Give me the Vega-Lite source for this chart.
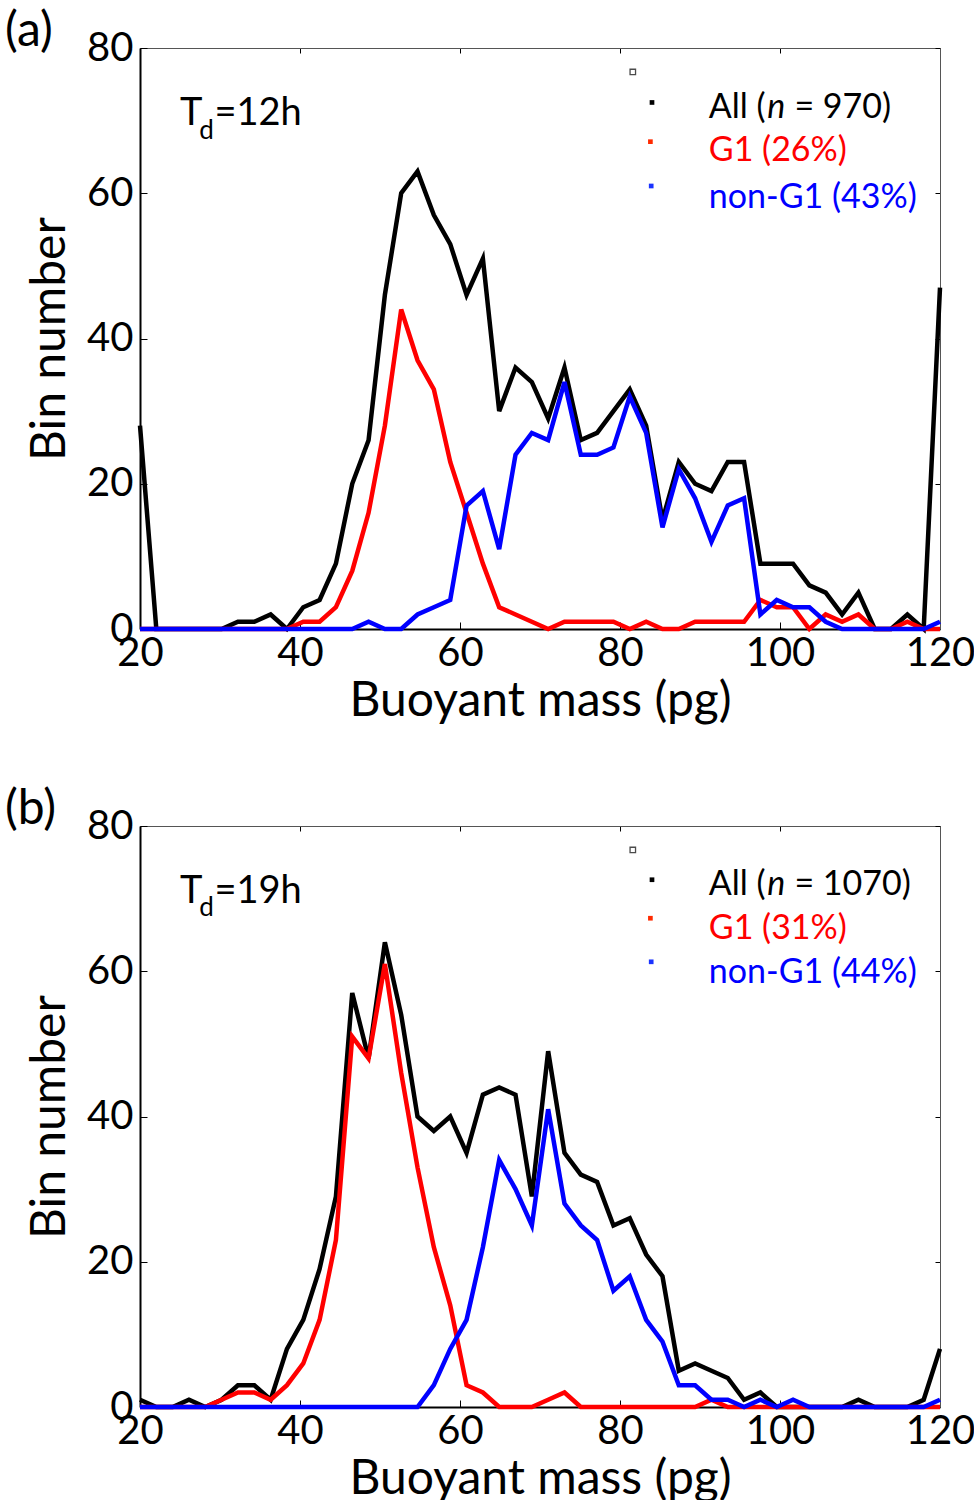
{
  "$schema": "https://vega.github.io/schema/vega-lite/v6.json",
  "background": "white",
  "padding": {"left": 5, "top": 8, "right": 0, "bottom": 0},
  "spacing": 61,
  "config": {
    "view": {"stroke": null},
    "font": "Lato",
    "axis": {
      "labelFont": "Lato", "labelFontSize": 40, "labelColor": "black",
      "titleFont": "Lato", "titleFontSize": 48, "titleFontWeight": "normal", "titleColor": "black",
      "grid": false, "tickColor": "black", "tickSize": -7, "tickWidth": 1,
      "domainColor": "black", "domainWidth": 2
    },
    "title": {"font": "Lato", "fontSize": 48, "fontWeight": "normal", "color": "black"}
  },
  "datasets": {
    "a": [
      {"mass": 20, "All": 28, "G1": 0, "nonG1": 0},
      {"mass": 22.04, "All": 0, "G1": 0, "nonG1": 0},
      {"mass": 24.08, "All": 0, "G1": 0, "nonG1": 0},
      {"mass": 26.12, "All": 0, "G1": 0, "nonG1": 0},
      {"mass": 28.16, "All": 0, "G1": 0, "nonG1": 0},
      {"mass": 30.2, "All": 0, "G1": 0, "nonG1": 0},
      {"mass": 32.24, "All": 1, "G1": 0, "nonG1": 0},
      {"mass": 34.29, "All": 1, "G1": 0, "nonG1": 0},
      {"mass": 36.33, "All": 2, "G1": 0, "nonG1": 0},
      {"mass": 38.37, "All": 0, "G1": 0, "nonG1": 0},
      {"mass": 40.41, "All": 3, "G1": 1, "nonG1": 0},
      {"mass": 42.45, "All": 4, "G1": 1, "nonG1": 0},
      {"mass": 44.49, "All": 9, "G1": 3, "nonG1": 0},
      {"mass": 46.53, "All": 20, "G1": 8, "nonG1": 0},
      {"mass": 48.57, "All": 26, "G1": 16, "nonG1": 1},
      {"mass": 50.61, "All": 46, "G1": 28, "nonG1": 0},
      {"mass": 52.65, "All": 60, "G1": 44, "nonG1": 0},
      {"mass": 54.69, "All": 63, "G1": 37, "nonG1": 2},
      {"mass": 56.73, "All": 57, "G1": 33, "nonG1": 3},
      {"mass": 58.78, "All": 53, "G1": 23, "nonG1": 4},
      {"mass": 60.82, "All": 46, "G1": 16, "nonG1": 17},
      {"mass": 62.86, "All": 51, "G1": 9, "nonG1": 19},
      {"mass": 64.9, "All": 30, "G1": 3, "nonG1": 11},
      {"mass": 66.94, "All": 36, "G1": 2, "nonG1": 24},
      {"mass": 68.98, "All": 34, "G1": 1, "nonG1": 27},
      {"mass": 71.02, "All": 29, "G1": 0, "nonG1": 26},
      {"mass": 73.06, "All": 36, "G1": 1, "nonG1": 34},
      {"mass": 75.1, "All": 26, "G1": 1, "nonG1": 24},
      {"mass": 77.14, "All": 27, "G1": 1, "nonG1": 24},
      {"mass": 79.18, "All": 30, "G1": 1, "nonG1": 25},
      {"mass": 81.22, "All": 33, "G1": 0, "nonG1": 32},
      {"mass": 83.27, "All": 28, "G1": 1, "nonG1": 27},
      {"mass": 85.31, "All": 15, "G1": 0, "nonG1": 14},
      {"mass": 87.35, "All": 23, "G1": 0, "nonG1": 22},
      {"mass": 89.39, "All": 20, "G1": 1, "nonG1": 18},
      {"mass": 91.43, "All": 19, "G1": 1, "nonG1": 12},
      {"mass": 93.47, "All": 23, "G1": 1, "nonG1": 17},
      {"mass": 95.51, "All": 23, "G1": 1, "nonG1": 18},
      {"mass": 97.55, "All": 9, "G1": 4, "nonG1": 2},
      {"mass": 99.59, "All": 9, "G1": 3, "nonG1": 4},
      {"mass": 101.63, "All": 9, "G1": 3, "nonG1": 3},
      {"mass": 103.67, "All": 6, "G1": 0, "nonG1": 3},
      {"mass": 105.71, "All": 5, "G1": 2, "nonG1": 1},
      {"mass": 107.76, "All": 2, "G1": 1, "nonG1": 0},
      {"mass": 109.8, "All": 5, "G1": 2, "nonG1": 0},
      {"mass": 111.84, "All": 0, "G1": 0, "nonG1": 0},
      {"mass": 113.88, "All": 0, "G1": 0, "nonG1": 0},
      {"mass": 115.92, "All": 2, "G1": 1, "nonG1": 0},
      {"mass": 117.96, "All": 0, "G1": 0, "nonG1": 0},
      {"mass": 120, "All": 47, "G1": 0, "nonG1": 1}
    ],
    "b": [
      {"mass": 20, "All": 1, "G1": 0, "nonG1": 0},
      {"mass": 22.04, "All": 0, "G1": 0, "nonG1": 0},
      {"mass": 24.08, "All": 0, "G1": 0, "nonG1": 0},
      {"mass": 26.12, "All": 1, "G1": 0, "nonG1": 0},
      {"mass": 28.16, "All": 0, "G1": 0, "nonG1": 0},
      {"mass": 30.2, "All": 1, "G1": 1, "nonG1": 0},
      {"mass": 32.24, "All": 3, "G1": 2, "nonG1": 0},
      {"mass": 34.29, "All": 3, "G1": 2, "nonG1": 0},
      {"mass": 36.33, "All": 1, "G1": 1, "nonG1": 0},
      {"mass": 38.37, "All": 8, "G1": 3, "nonG1": 0},
      {"mass": 40.41, "All": 12, "G1": 6, "nonG1": 0},
      {"mass": 42.45, "All": 19, "G1": 12, "nonG1": 0},
      {"mass": 44.49, "All": 29, "G1": 23, "nonG1": 0},
      {"mass": 46.53, "All": 57, "G1": 51, "nonG1": 0},
      {"mass": 48.57, "All": 48, "G1": 48, "nonG1": 0},
      {"mass": 50.61, "All": 64, "G1": 61, "nonG1": 0},
      {"mass": 52.65, "All": 54, "G1": 46, "nonG1": 0},
      {"mass": 54.69, "All": 40, "G1": 33, "nonG1": 0},
      {"mass": 56.73, "All": 38, "G1": 22, "nonG1": 3},
      {"mass": 58.78, "All": 40, "G1": 14, "nonG1": 8},
      {"mass": 60.82, "All": 35, "G1": 3, "nonG1": 12},
      {"mass": 62.86, "All": 43, "G1": 2, "nonG1": 22},
      {"mass": 64.9, "All": 44, "G1": 0, "nonG1": 34},
      {"mass": 66.94, "All": 43, "G1": 0, "nonG1": 30},
      {"mass": 68.98, "All": 29, "G1": 0, "nonG1": 25},
      {"mass": 71.02, "All": 49, "G1": 1, "nonG1": 41},
      {"mass": 73.06, "All": 35, "G1": 2, "nonG1": 28},
      {"mass": 75.1, "All": 32, "G1": 0, "nonG1": 25},
      {"mass": 77.14, "All": 31, "G1": 0, "nonG1": 23},
      {"mass": 79.18, "All": 25, "G1": 0, "nonG1": 16},
      {"mass": 81.22, "All": 26, "G1": 0, "nonG1": 18},
      {"mass": 83.27, "All": 21, "G1": 0, "nonG1": 12},
      {"mass": 85.31, "All": 18, "G1": 0, "nonG1": 9},
      {"mass": 87.35, "All": 5, "G1": 0, "nonG1": 3},
      {"mass": 89.39, "All": 6, "G1": 0, "nonG1": 3},
      {"mass": 91.43, "All": 5, "G1": 1, "nonG1": 1},
      {"mass": 93.47, "All": 4, "G1": 0, "nonG1": 1},
      {"mass": 95.51, "All": 1, "G1": 0, "nonG1": 0},
      {"mass": 97.55, "All": 2, "G1": 0, "nonG1": 1},
      {"mass": 99.59, "All": 0, "G1": 0, "nonG1": 0},
      {"mass": 101.63, "All": 0, "G1": 0, "nonG1": 1},
      {"mass": 103.67, "All": 0, "G1": 0, "nonG1": 0},
      {"mass": 105.71, "All": 0, "G1": 0, "nonG1": 0},
      {"mass": 107.76, "All": 0, "G1": 0, "nonG1": 0},
      {"mass": 109.8, "All": 1, "G1": 0, "nonG1": 0},
      {"mass": 111.84, "All": 0, "G1": 0, "nonG1": 0},
      {"mass": 113.88, "All": 0, "G1": 0, "nonG1": 0},
      {"mass": 115.92, "All": 0, "G1": 0, "nonG1": 0},
      {"mass": 117.96, "All": 1, "G1": 0, "nonG1": 0},
      {"mass": 120, "All": 8, "G1": 0, "nonG1": 1}
    ]
  },
  "vconcat": [
    {
      "width": 800, "height": 581,
      "title": {"text": "(a)", "anchor": "start", "frame": "group", "dx": -135, "offset": -28},
      "resolve": {"axis": {"x": "independent", "y": "independent"}},
      "layer": [
        {
          "data": {"name": "a"},
          "layer": [
            {"mark": {"type": "line", "color": "#000000", "strokeWidth": 4.5, "strokeJoin": "miter"},
             "encoding": {
               "x": {"field": "mass", "type": "quantitative", "scale": {"domain": [20, 120], "nice": false},
                     "axis": {"title": "Buoyant mass (pg)", "values": [20, 40, 60, 80, 100, 120], "labelPadding": 11, "titlePadding": 4, "labelFlush": false, "labelOverlap": false, "labelBound": false}},
               "y": {"field": "All", "type": "quantitative", "scale": {"domain": [0, 80], "nice": false},
                     "axis": {"title": "Bin number", "values": [0, 20, 40, 60, 80], "labelPadding": 14, "titlePadding": 12, "labelFlush": false, "labelOverlap": false, "labelBound": false}}
             }},
            {"mark": {"type": "line", "color": "#FF0000", "strokeWidth": 4.5, "strokeJoin": "miter"},
             "encoding": {"x": {"field": "mass", "type": "quantitative"}, "y": {"field": "G1", "type": "quantitative"}}},
            {"mark": {"type": "line", "color": "#0000FF", "strokeWidth": 4.5, "strokeJoin": "miter"},
             "encoding": {"x": {"field": "mass", "type": "quantitative"}, "y": {"field": "nonG1", "type": "quantitative"}}},
            {"data": {"values": [{}]}, "mark": {"type": "text", "text": "T", "fontSize": 38, "align": "left", "baseline": "middle", "color": "black"},
             "encoding": {"x": {"datum": 25}, "y": {"datum": 70.85}}},
            {"data": {"values": [{}]}, "mark": {"type": "text", "text": "d", "fontSize": 26, "align": "left", "baseline": "middle", "color": "black"},
             "encoding": {"x": {"datum": 27.4}, "y": {"datum": 68.6}}},
            {"data": {"values": [{}]}, "mark": {"type": "text", "text": "=12h", "fontSize": 38, "align": "left", "baseline": "middle", "color": "black"},
             "encoding": {"x": {"datum": 29.3}, "y": {"datum": 70.85}}},
            {"data": {"values": [{}]}, "mark": {"type": "point", "shape": "square", "filled": false, "size": 30, "strokeWidth": 1.3, "color": "black"},
             "encoding": {"x": {"datum": 81.6}, "y": {"datum": 76.7}}},
            {"data": {"values": [{}]}, "mark": {"type": "point", "shape": "square", "filled": true, "size": 22, "opacity": 1, "color": "black"},
             "encoding": {"x": {"datum": 84.0}, "y": {"datum": 72.5}}},
            {"data": {"values": [{}]}, "mark": {"type": "point", "shape": "square", "filled": true, "size": 22, "opacity": 1, "color": "#FF2A00"},
             "encoding": {"x": {"datum": 83.8}, "y": {"datum": 67.1}}},
            {"data": {"values": [{}]}, "mark": {"type": "point", "shape": "square", "filled": true, "size": 22, "opacity": 1, "color": "#1A33FF"},
             "encoding": {"x": {"datum": 83.9}, "y": {"datum": 61.0}}},
            {"data": {"values": [{}]}, "mark": {"type": "text", "text": "All (", "fontSize": 34, "align": "left", "baseline": "middle", "color": "black"},
             "encoding": {"x": {"datum": 91.1}, "y": {"datum": 71.8}}},
            {"data": {"values": [{}]}, "mark": {"type": "text", "text": "n", "fontSize": 34, "fontStyle": "italic", "align": "left", "baseline": "middle", "color": "black"},
             "encoding": {"x": {"datum": 98.4}, "y": {"datum": 71.8}}},
            {"data": {"values": [{}]}, "mark": {"type": "text", "text": "= 970)", "fontSize": 34, "align": "left", "baseline": "middle", "color": "black"},
             "encoding": {"x": {"datum": 101.8}, "y": {"datum": 71.8}}},
            {"data": {"values": [{}]}, "mark": {"type": "text", "text": "G1 (26%)", "fontSize": 34, "align": "left", "baseline": "middle", "color": "#FF0000"},
             "encoding": {"x": {"datum": 91.1}, "y": {"datum": 65.8}}},
            {"data": {"values": [{}]}, "mark": {"type": "text", "text": "non-G1 (43%)", "fontSize": 34, "align": "left", "baseline": "middle", "color": "#0000FF"},
             "encoding": {"x": {"datum": 91.1}, "y": {"datum": 59.4}}}
          ]
        },
        {
          "data": {"name": "a"},
          "mark": {"type": "point", "opacity": 0},
          "encoding": {
            "x": {"field": "mass", "type": "quantitative", "axis": {"orient": "top", "labels": false, "title": null, "values": [20, 40, 60, 80, 100, 120], "domainColor": "#555555", "domainWidth": 1, "tickSize": -5}},
            "y": {"field": "All", "type": "quantitative", "axis": {"orient": "right", "labels": false, "title": null, "values": [0, 20, 40, 60, 80], "domainColor": "#555555", "domainWidth": 1, "tickSize": -5}}
          }
        }
      ]
    },
    {
      "width": 800, "height": 581,
      "title": {"text": "(b)", "anchor": "start", "frame": "group", "dx": -135, "offset": -28},
      "resolve": {"axis": {"x": "independent", "y": "independent"}},
      "layer": [
        {
          "data": {"name": "b"},
          "layer": [
            {"mark": {"type": "line", "color": "#000000", "strokeWidth": 4.5, "strokeJoin": "miter"},
             "encoding": {
               "x": {"field": "mass", "type": "quantitative", "scale": {"domain": [20, 120], "nice": false},
                     "axis": {"title": "Buoyant mass (pg)", "values": [20, 40, 60, 80, 100, 120], "labelPadding": 11, "titlePadding": 4, "labelFlush": false, "labelOverlap": false, "labelBound": false}},
               "y": {"field": "All", "type": "quantitative", "scale": {"domain": [0, 80], "nice": false},
                     "axis": {"title": "Bin number", "values": [0, 20, 40, 60, 80], "labelPadding": 14, "titlePadding": 12, "labelFlush": false, "labelOverlap": false, "labelBound": false}}
             }},
            {"mark": {"type": "line", "color": "#FF0000", "strokeWidth": 4.5, "strokeJoin": "miter"},
             "encoding": {"x": {"field": "mass", "type": "quantitative"}, "y": {"field": "G1", "type": "quantitative"}}},
            {"mark": {"type": "line", "color": "#0000FF", "strokeWidth": 4.5, "strokeJoin": "miter"},
             "encoding": {"x": {"field": "mass", "type": "quantitative"}, "y": {"field": "nonG1", "type": "quantitative"}}},
            {"data": {"values": [{}]}, "mark": {"type": "text", "text": "T", "fontSize": 38, "align": "left", "baseline": "middle", "color": "black"},
             "encoding": {"x": {"datum": 25}, "y": {"datum": 70.95}}},
            {"data": {"values": [{}]}, "mark": {"type": "text", "text": "d", "fontSize": 26, "align": "left", "baseline": "middle", "color": "black"},
             "encoding": {"x": {"datum": 27.4}, "y": {"datum": 68.7}}},
            {"data": {"values": [{}]}, "mark": {"type": "text", "text": "=19h", "fontSize": 38, "align": "left", "baseline": "middle", "color": "black"},
             "encoding": {"x": {"datum": 29.3}, "y": {"datum": 70.95}}},
            {"data": {"values": [{}]}, "mark": {"type": "point", "shape": "square", "filled": false, "size": 30, "strokeWidth": 1.3, "color": "black"},
             "encoding": {"x": {"datum": 81.6}, "y": {"datum": 76.7}}},
            {"data": {"values": [{}]}, "mark": {"type": "point", "shape": "square", "filled": true, "size": 22, "opacity": 1, "color": "black"},
             "encoding": {"x": {"datum": 84.0}, "y": {"datum": 72.6}}},
            {"data": {"values": [{}]}, "mark": {"type": "point", "shape": "square", "filled": true, "size": 22, "opacity": 1, "color": "#FF2A00"},
             "encoding": {"x": {"datum": 83.8}, "y": {"datum": 67.3}}},
            {"data": {"values": [{}]}, "mark": {"type": "point", "shape": "square", "filled": true, "size": 22, "opacity": 1, "color": "#1A33FF"},
             "encoding": {"x": {"datum": 83.9}, "y": {"datum": 61.3}}},
            {"data": {"values": [{}]}, "mark": {"type": "text", "text": "All (", "fontSize": 34, "align": "left", "baseline": "middle", "color": "black"},
             "encoding": {"x": {"datum": 91.1}, "y": {"datum": 71.9}}},
            {"data": {"values": [{}]}, "mark": {"type": "text", "text": "n", "fontSize": 34, "fontStyle": "italic", "align": "left", "baseline": "middle", "color": "black"},
             "encoding": {"x": {"datum": 98.4}, "y": {"datum": 71.9}}},
            {"data": {"values": [{}]}, "mark": {"type": "text", "text": "= 1070)", "fontSize": 34, "align": "left", "baseline": "middle", "color": "black"},
             "encoding": {"x": {"datum": 101.8}, "y": {"datum": 71.9}}},
            {"data": {"values": [{}]}, "mark": {"type": "text", "text": "G1 (31%)", "fontSize": 34, "align": "left", "baseline": "middle", "color": "#FF0000"},
             "encoding": {"x": {"datum": 91.1}, "y": {"datum": 65.8}}},
            {"data": {"values": [{}]}, "mark": {"type": "text", "text": "non-G1 (44%)", "fontSize": 34, "align": "left", "baseline": "middle", "color": "#0000FF"},
             "encoding": {"x": {"datum": 91.1}, "y": {"datum": 59.8}}}
          ]
        },
        {
          "data": {"name": "b"},
          "mark": {"type": "point", "opacity": 0},
          "encoding": {
            "x": {"field": "mass", "type": "quantitative", "axis": {"orient": "top", "labels": false, "title": null, "values": [20, 40, 60, 80, 100, 120], "domainColor": "#555555", "domainWidth": 1, "tickSize": -5}},
            "y": {"field": "All", "type": "quantitative", "axis": {"orient": "right", "labels": false, "title": null, "values": [0, 20, 40, 60, 80], "domainColor": "#555555", "domainWidth": 1, "tickSize": -5}}
          }
        }
      ]
    }
  ]
}
